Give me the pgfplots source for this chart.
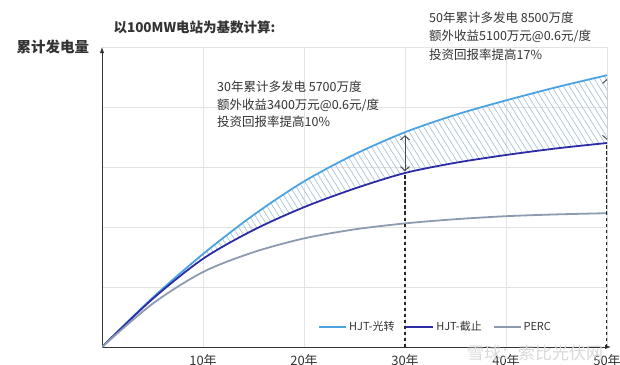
\documentclass[border=0pt]{standalone}
\usepackage{fontspec}
\setmainfont{Noto Sans CJK SC}
\usepackage{pgfplots}
\usepackage{pgfplotstable}
\pgfplotsset{compat=1.18}
\usepgfplotslibrary{fillbetween}
\usetikzlibrary{patterns.meta, arrows.meta}

\definecolor{hjtA}{HTML}{4CA3E0}
\definecolor{hjtB}{HTML}{2C2CA6}
\definecolor{perc}{HTML}{8D9BB0}
\definecolor{hatch}{HTML}{A8C4D8}
\definecolor{gridc}{HTML}{E3E3E3}
\definecolor{txt}{HTML}{333333}

% cumulative generation (relative units) by year of operation
\pgfplotstableread{
year light dark perc
0    0     0     0
5    0.82  0.80  0.72
10   1.55  1.47  1.25
15   2.20  1.95  1.58
20   2.76  2.33  1.81
25   3.21  2.64  1.96
30   3.58  2.90  2.06
35   3.87  3.07  2.13
40   4.11  3.20  2.18
45   4.33  3.31  2.21
50   4.53  3.40  2.23
}\gentable

\begin{document}
\begin{tikzpicture}
\begin{axis}[
  set layers,
  at={(0pt,0pt)}, anchor=south west,
  scale only axis, width=505pt, height=300pt,
  xmin=0, xmax=50, ymin=0, ymax=5,
  axis x line=bottom, axis y line=left,
  axis line style={line width=0.9pt, black!80, -{Latex[length=6pt,width=4.5pt]}},
  x axis line style={shorten >=-4pt},
  xtick={10,20,30,40,50}, xticklabels={10年,20年,30年,40年,50年},
  ytick={1,2,3,4,5}, yticklabels={},
  major tick length=0pt,
  grid=major, grid style={gridc, line width=0.7pt},
  xticklabel style={font=\fontsize{13}{15}\selectfont, text=txt, yshift=-4pt},
  legend style={draw=none, fill=none, at={(0.428,0.067)}, anchor=west,
    font=\fontsize{11}{13}\selectfont, text=txt, inner xsep=0pt,
    /tikz/every even column/.append style={column sep=9pt}},
  legend columns=3,
  legend image code/.code={\draw[#1, line width=1.8pt] (0pt,0pt) -- (27pt,0pt);},
]
\addplot[name path=A, hjtA, line width=1.8pt, smooth] table[x=year, y=light]{\gentable};
\addlegendentry{HJT-光转}
\addplot[name path=B, hjtB, line width=1.8pt, smooth] table[x=year, y=dark]{\gentable};
\addlegendentry{HJT-截止}
\addplot[perc, line width=1.8pt, smooth] table[x=year, y=perc]{\gentable};
\addlegendentry{PERC}

% hatched gain between the two HJT curves
\addplot[draw=none, pattern={Lines[angle=-58, distance=5pt, line width=0.7pt]},
  pattern color=hatch, forget plot] fill between[of=A and B];

% dashed markers at 30 and 50 years
\addplot[black!85, line width=1.5pt, dash pattern=on 3.5pt off 2.5pt, forget plot]
  coordinates {(30,0) (30,2.90)};
\addplot[black!85, line width=1.5pt, dash pattern=on 3.5pt off 2.5pt, forget plot]
  coordinates {(50,0) (50,3.40)};

% gap arrows
\addplot[black!70, line width=1pt, forget plot,
  arrows={Straight Barb[length=4pt,width=9pt]-Straight Barb[length=4pt,width=9pt]}]
  coordinates {(30,2.93) (30,3.53)};
\addplot[black!70, line width=1pt, forget plot,
  arrows={Straight Barb[length=4pt,width=9pt]-Straight Barb[length=4pt,width=9pt]}]
  coordinates {(50,3.45) (50,4.47)};
\end{axis}

% titles
\node[anchor=base west, font=\fontsize{13.5}{16}\selectfont\bfseries, text=txt]
  at (8pt,314pt) {以100MW电站为基数计算:};
\node[anchor=base west, font=\fontsize{14.5}{17}\selectfont\bfseries, text=txt]
  at (-89pt,294.5pt) {累计发电量};

% annotations
\begin{scope}[every node/.style={anchor=base west, font=\fontsize{12.5}{14}\selectfont, text=txt, inner sep=0pt}]
\node at (115pt,255pt) {30年累计多发电 5700万度};
\node at (115pt,237.5pt) {额外收益3400万元@0.6元/度};
\node at (115pt,220pt) {投资回报率提高10\%};
\node at (327pt,324pt) {50年累计多发电 8500万度};
\node at (327pt,306.5pt) {额外收益5100万元@0.6元/度};
\node at (327pt,287.5pt) {投资回报率提高17\%};
\end{scope}

\node[anchor=base west, font=\fontsize{17}{19}\selectfont, text=gray!30, inner sep=0pt]
  at (365pt,-12pt) {雪球：索比光伏网};

\pgfresetboundingbox
\path[use as bounding box] (-102pt,-17pt) rectangle (518pt,347pt);
\end{tikzpicture}
\end{document}
